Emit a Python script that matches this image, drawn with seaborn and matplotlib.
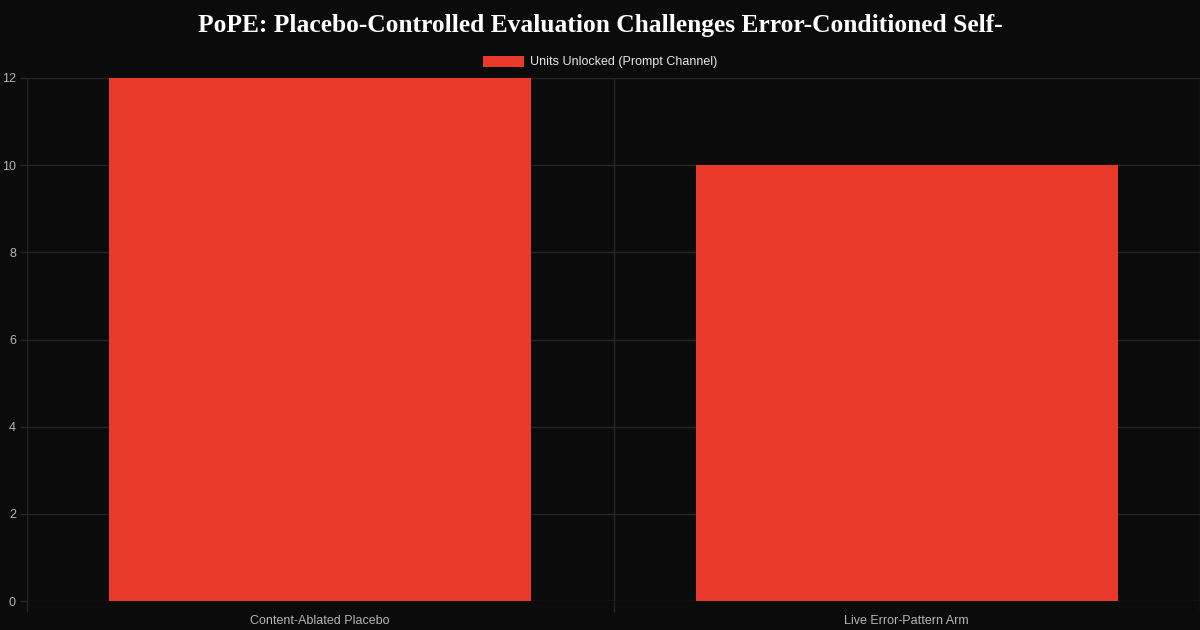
import matplotlib
matplotlib.use("Agg")
import matplotlib.pyplot as plt
import seaborn as sns
import pandas as pd
from matplotlib.patches import Patch

categories = ["Content-Ablated Placebo", "Live Error-Pattern Arm"]
units_unlocked = [12, 10]
series_name = "Units Unlocked (Prompt Channel)"
yticks = [0, 2, 4, 6, 8, 10, 12]
title = "PoPE: Placebo-Controlled Evaluation Challenges Error-Conditioned Self-"

BG = "#0b0b0b"
BAR = "#e8392b"
GRID = "#262626"
TICK = "#b4b4b4"

sns.set_theme(style="dark")
plt.rcParams["font.family"] = ["Liberation Sans", "DejaVu Sans"]

df = pd.DataFrame({"category": categories, "value": units_unlocked})

fig = plt.figure(figsize=(12, 6.3), dpi=100, facecolor=BG)
ax = fig.add_axes([27/1200, 1 - 601/630, 1 - 27/1200, (601 - 78)/630])
ax.set_facecolor(BG)

sns.barplot(data=df, x="category", y="value", color=BAR, width=0.72,
            saturation=1, ax=ax, zorder=3)
for p in ax.patches:
    p.set_edgecolor("none")

ax.set_xlim(-0.5, 1.5)
ax.set_ylim(0, 12)
ax.set_yticks(yticks)
ax.set_yticklabels([str(t) for t in yticks])
ax.set_xlabel("")
ax.set_ylabel("")

for t in yticks:
    ax.axhline(t, color=GRID, lw=1, zorder=1)
for xv in [-0.5, 0.5, 1.5]:
    ax.axvline(xv, color=GRID, lw=1, zorder=1)

for s in ax.spines.values():
    s.set_visible(False)

ax.tick_params(axis="y", colors=TICK, labelsize=9, length=5, width=1,
               color=GRID, pad=3, left=True)
ax.tick_params(axis="x", colors=TICK, labelsize=9, length=0, pad=10)
for lbl in ax.get_xticklabels():
    lbl.set_color(TICK)
ax.set_xticks([-0.5, 0.5, 1.5], minor=True)
ax.tick_params(axis="x", which="minor", length=8, color=GRID, width=1, bottom=True)

handle = Patch(facecolor=BAR, edgecolor="none", label=series_name)
leg = fig.legend(handles=[handle], loc="center", bbox_to_anchor=(0.5, 1 - 62/630),
                 frameon=False, fontsize=9, handlelength=3.3, handleheight=1.0,
                 handletextpad=0.5, labelcolor="#e6e6e6")

fig.text(0.5, 1 - 25.5/630, title, ha="center", va="center", color="white",
         fontsize=18.4, fontweight="bold", family=["Liberation Serif", "DejaVu Serif"])

fig.savefig("out.png", dpi=100, facecolor=BG)
